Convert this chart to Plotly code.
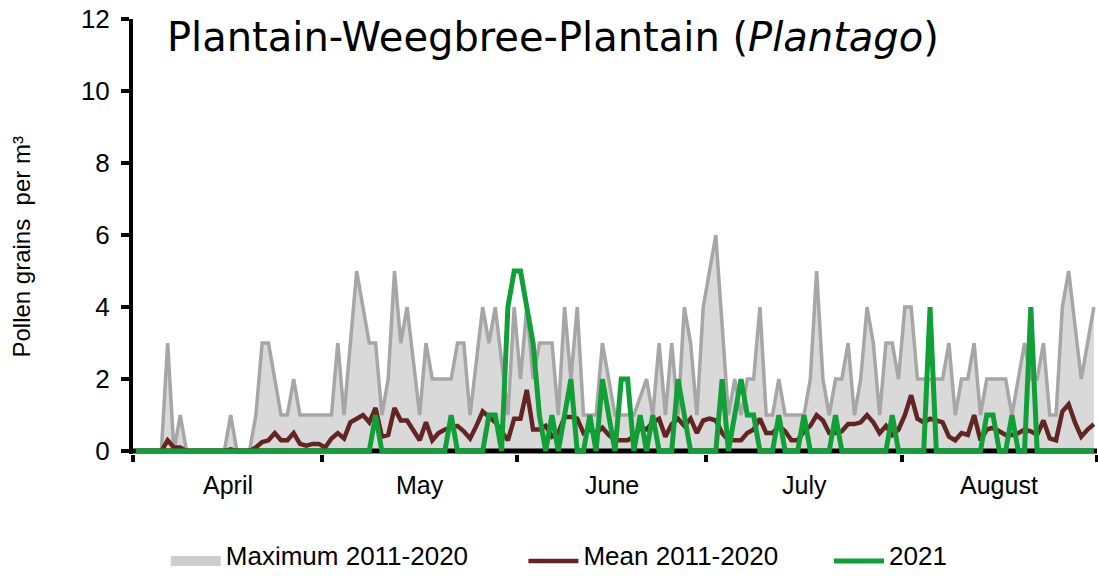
import pandas as pd
import plotly.graph_objects as go

# ---------------- data ----------------
start_date = "2021-04-01"
end_date = "2021-08-31"
month_names = ["April", "May", "June", "July", "August"]

max_2011_2020 = [
    0, 0, 0, 0, 0, 3, 0, 1, 0, 0,
    0, 0, 0, 0, 0, 1, 0, 0, 0, 1,
    3, 3, 2, 1, 1, 2, 1, 1, 1, 1,
    1, 1, 3, 1, 3, 5, 4, 3, 3, 1,
    2, 5, 3, 4, 2.5, 1, 3, 2, 2, 2,
    2, 3, 3, 1, 2.5, 4, 3, 4, 2.5, 1,
    4, 2, 4, 2, 3, 3, 3, 1, 4, 2,
    4, 1, 1, 1, 3, 2, 1, 1, 1, 1,
    1.5, 2, 1, 3, 1, 3, 1, 4, 3, 1,
    4, 5, 6, 3.5, 1, 2, 1, 2, 2, 4,
    1, 1, 2, 1, 1, 1, 1, 2, 5, 2,
    1, 2, 2, 3, 1, 2, 4, 3, 1, 3,
    3, 2, 4, 4, 2, 2, 2, 2, 2, 3,
    1, 2, 2, 3, 1, 2, 2, 2, 2, 1,
    2, 3, 2, 2, 3, 1, 1, 4, 5, 3.5,
    2, 3, 4,
]

mean_2011_2020 = [
    0, 0, 0, 0, 0, 0.3, 0.1, 0.1, 0, 0,
    0, 0, 0, 0, 0, 0.05, 0, 0, 0, 0.1,
    0.25, 0.3, 0.5, 0.3, 0.3, 0.5, 0.2, 0.15, 0.2, 0.2,
    0.1, 0.35, 0.5, 0.35, 0.8, 0.9, 1.0, 0.8, 1.2, 0.4,
    0.45, 1.2, 0.85, 0.85, 0.55, 0.3, 0.8, 0.3, 0.5, 0.6,
    0.65, 0.7, 0.55, 0.35, 0.7, 1.1, 0.95, 0.8, 0.55, 0.3,
    0.9, 0.9, 1.7, 0.6, 0.6, 0.7, 0.4, 0.5, 0.95, 0.95,
    0.9, 0.5, 0.6, 0.5, 0.65, 0.45, 0.3, 0.3, 0.3, 0.4,
    0.65, 0.6, 0.8, 0.9, 0.4, 0.75, 0.9, 0.7, 0.9, 0.5,
    0.85, 0.9, 0.85, 0.5, 0.3, 0.3, 0.3, 0.5, 0.6, 0.9,
    0.5, 0.5, 0.7, 0.55, 0.3, 0.3, 0.55, 0.7, 1.0, 0.85,
    0.5, 0.5, 0.55, 0.75, 0.75, 0.8, 1.0, 0.8, 0.5, 0.7,
    0.45, 0.6, 1.0, 1.55, 0.9, 0.8, 0.9, 0.85, 0.8, 0.4,
    0.3, 0.5, 0.45, 1.0, 0.3, 0.6, 0.65, 0.55, 0.45, 0.45,
    0.5, 0.6, 0.55, 0.45, 0.85, 0.35, 0.3, 1.1, 1.3, 0.8,
    0.4, 0.6, 0.75,
]

pollen_2021 = [
    0, 0, 0, 0, 0, 0, 0, 0, 0, 0,
    0, 0, 0, 0, 0, 0, 0, 0, 0, 0,
    0, 0, 0, 0, 0, 0, 0, 0, 0, 0,
    0, 0, 0, 0, 0, 0, 0, 0, 1, 0,
    0, 0, 0, 0, 0, 0, 0, 0, 0, 0,
    1, 0, 0, 0, 0, 0, 1, 1, 0, 4,
    5, 5, 4, 3, 1, 0, 1, 0, 1, 2,
    0, 0, 1, 0, 2, 1, 0, 2, 2, 0,
    1, 0, 1, 0, 0, 0, 2, 1, 0, 0,
    0, 0, 0, 2, 0, 1, 2, 1, 1, 0,
    0, 0, 1, 0, 0, 0, 1, 0, 0, 0,
    0, 1, 0, 0, 0, 0, 0, 0, 0, 0,
    1, 0, 0, 0, 0, 0, 4, 0, 0, 0,
    0, 0, 0, 0, 0, 1, 1, 0, 0, 1,
    0, 0, 4, 0, 0, 0, 0, 0, 0, 0,
    0, 0, 0,
]

y_ticks = [0, 2, 4, 6, 8, 10, 12]
series_names = ["Maximum 2011-2020", "Mean 2011-2020", "2021"]

# ---------------- derived ----------------
dates = pd.date_range(start_date, end_date, freq="D")
half_day = pd.Timedelta(hours=12)
month_starts = pd.date_range(start_date, pd.Timestamp(end_date) + pd.Timedelta(days=1), freq="MS")
boundaries = [d - half_day for d in month_starts]
centers = [boundaries[i] + (boundaries[i + 1] - boundaries[i]) / 2 for i in range(len(month_names))]

FONT = "Liberation Sans, Arial, sans-serif"
MAX_LINE = "#A6A6A6"
MAX_FILL = "#D9D9D9"


def legend_label(name):
    return '<span style="font-size:26px">' + name + "</span>"


fig = go.Figure()
fig.add_trace(go.Scatter(
    x=dates, y=max_2011_2020, name=series_names[0], mode="lines",
    fill="tozeroy", fillcolor=MAX_FILL,
    line=dict(color=MAX_LINE, width=3.5), showlegend=False,
))
# horizontal axis line at zero (drawn above the area fill, below the lines)
fig.add_trace(go.Scatter(
    x=[boundaries[0], boundaries[-1]], y=[0, 0], mode="lines",
    line=dict(color="black", width=5), showlegend=False, hoverinfo="skip",
))
# legend proxy (box-like symbol) for the maximum series
fig.add_trace(go.Scatter(
    x=[None], y=[None], name=legend_label(series_names[0]), mode="lines",
    line=dict(color="#CDCDCD", width=16), legend="legend",
))
fig.add_trace(go.Scatter(
    x=dates, y=mean_2011_2020, name=legend_label(series_names[1]), mode="lines",
    line=dict(color="#632523", width=4.5), legend="legend2",
))
fig.add_trace(go.Scatter(
    x=dates, y=pollen_2021, name=legend_label(series_names[2]), mode="lines",
    line=dict(color="#11A037", width=5), legend="legend3",
))

annotations = []
for name, c in zip(month_names, centers):
    annotations.append(dict(
        x=c, xref="x", y=-0.072, yref="paper", text=name, showarrow=False,
        xanchor="center", yanchor="middle", font=dict(family=FONT, size=25, color="black"),
    ))
annotations.append(dict(
    x=-0.116, xref="paper", y=0.475, yref="paper", text="Pollen grains  per m³",
    showarrow=False, textangle=-90, xanchor="center", yanchor="middle",
    font=dict(family=FONT, size=24, color="black"),
))
annotations.append(dict(
    x=0.033, xref="paper", y=0.958, yref="paper",
    text="Plantain-Weegbree-Plantain (<i>Plantago</i>)",
    showarrow=False, xanchor="left", yanchor="middle",
    font=dict(family="DejaVu Sans, sans-serif", size=40, color="black"),
))

leg_common = dict(orientation="h", yanchor="middle", xanchor="left",
                  font=dict(family=FONT, size=10, color="black"),
                  bgcolor="rgba(0,0,0,0)", itemwidth=50)

LEG_Y = -0.246

fig.update_layout(
    width=1098, height=577,
    margin=dict(l=133, r=1, t=19, b=123),
    paper_bgcolor="white", plot_bgcolor="white",
    showlegend=True,
    annotations=annotations,
    legend=dict(x=0.034, y=LEG_Y, **leg_common),
    legend2=dict(x=0.405, y=LEG_Y, **leg_common),
    legend3=dict(x=0.722, y=LEG_Y, **leg_common),
    xaxis=dict(
        range=[boundaries[0], boundaries[-1]],
        tickvals=boundaries, ticktext=[""] * len(boundaries),
        ticks="outside", ticklen=7, tickwidth=3.5, tickcolor="black",
        showline=False, showgrid=False, zeroline=False,
        automargin=False,
    ),
    yaxis=dict(
        range=[-0.08, 12], tickvals=y_ticks,
        ticks="outside", ticklen=8, tickwidth=3.5, tickcolor="black",
        showline=True, linecolor="black", linewidth=4,
        showgrid=False, zeroline=False, layer="below traces",
        tickfont=dict(family=FONT, size=26, color="black"),
        ticklabelstandoff=6, automargin=False,
    ),
)

fig.write_html("out.html", config={"displayModeBar": False},
               post_script="document.body.style.margin='0';")
